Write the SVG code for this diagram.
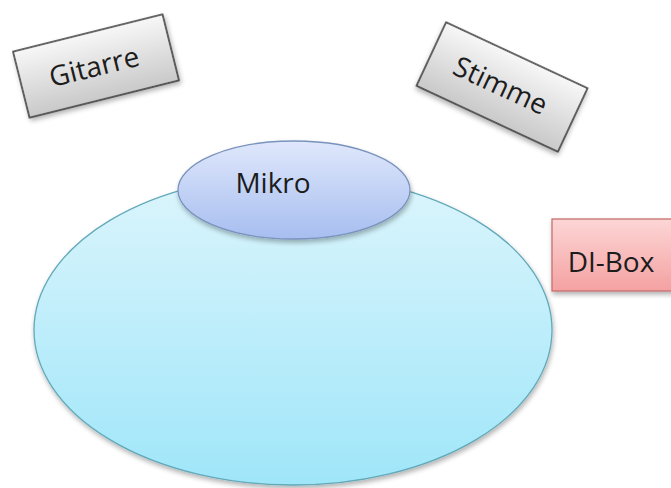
<svg xmlns="http://www.w3.org/2000/svg" width="671" height="488" viewBox="0 0 671 488">
<defs>
  <linearGradient id="gBig" x1="0" y1="0" x2="0" y2="1">
    <stop offset="0" stop-color="#dcf5fc"/>
    <stop offset="1" stop-color="#9fe6f9"/>
  </linearGradient>
  <linearGradient id="gMic" x1="0" y1="0" x2="0" y2="1">
    <stop offset="0" stop-color="#dfe7fb"/>
    <stop offset="1" stop-color="#a7bef0"/>
  </linearGradient>
  <linearGradient id="gGray" x1="0" y1="0" x2="0" y2="1">
    <stop offset="0" stop-color="#f7f7f7"/>
    <stop offset="1" stop-color="#c9c9c9"/>
  </linearGradient>
  <linearGradient id="gRed" x1="0" y1="0" x2="0" y2="1">
    <stop offset="0" stop-color="#fdd6d6"/>
    <stop offset="1" stop-color="#f4a1a1"/>
  </linearGradient>
  <filter id="sh" x="-10%" y="-10%" width="130%" height="140%">
    <feGaussianBlur in="SourceAlpha" stdDeviation="2.5"/>
    <feOffset dx="1" dy="3" result="b"/>
    <feComponentTransfer><feFuncA type="linear" slope="0.3"/></feComponentTransfer>
    <feMerge><feMergeNode/><feMergeNode in="SourceGraphic"/></feMerge>
  </filter>
  <style>
    .lbl { font-family: "Open Sans", "Liberation Sans", sans-serif; font-size: 28px; fill: #1c1c1c; text-anchor: middle; }
  </style>
</defs>
<g id="connectors"/>
<g id="raum">
  <ellipse cx="293" cy="330" rx="259" ry="155" fill="url(#gBig)" stroke="#62a9ba" stroke-width="1.3" filter="url(#sh)"/>
</g>
<g id="mikro">
  <ellipse cx="294" cy="190" rx="116" ry="49" fill="url(#gMic)" stroke="#7a93bd" stroke-width="1.3" filter="url(#sh)"/>
  <text class="lbl" x="273" y="193">Mikro</text>
</g>
<g id="gitarre" transform="translate(96 66) rotate(-14)">
  <rect x="-77" y="-34" width="154" height="68" fill="url(#gGray)" stroke="#333" stroke-width="1.5" filter="url(#sh)"/>
  <text class="lbl" x="-2" y="10">Gitarre</text>
</g>
<g id="stimme" transform="translate(502 87) rotate(25)">
  <rect x="-78" y="-35" width="156" height="70" fill="url(#gGray)" stroke="#333" stroke-width="1.5" filter="url(#sh)"/>
  <text class="lbl" x="-2" y="9">Stimme</text>
</g>
<g id="dibox">
  <rect x="552" y="219" width="122" height="72" fill="url(#gRed)" stroke="#c77070" stroke-width="1.3" filter="url(#sh)"/>
  <text class="lbl" x="611" y="272">DI-Box</text>
</g>
</svg>
